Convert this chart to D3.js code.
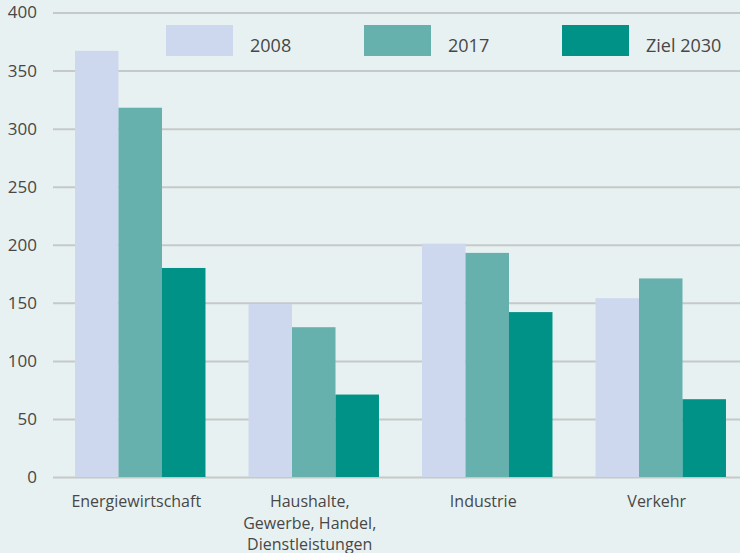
<!DOCTYPE html>
<html>
<head>
<meta charset="utf-8">
<script src="https://cdn.jsdelivr.net/npm/d3@7"></script>
<style>
  body { margin: 0; background: #e8f1f1; }
  #svg { width: 740px; height: 553px; }
  text { font-family: "Open Sans", sans-serif; fill: #474747; }
</style>
</head>
<body>
<div id="svg"></div>
<script>
const categories = [
  ['Energiewirtschaft'],
  ['Haushalte,', 'Gewerbe, Handel,', 'Dienstleistungen'],
  ['Industrie'],
  ['Verkehr']
]
const seriesNames = ['2008', '2017', 'Ziel 2030']
const values2008 = [367, 149, 201, 154]
const values2017 = [318, 129, 193, 171]
const valuesZiel = [180, 71, 142, 67]
const yTicks = [0, 50, 100, 150, 200, 250, 300, 350, 400]
const colors = ['#cdd8ee', '#66b0ae', '#009286']

const allSeries = [values2008, values2017, valuesZiel]

const svg = d3.select('#svg')
  .append('svg')
  .attr('width', 740)
  .attr('height', 553)

svg.append('rect')
  .attr('width', 740).attr('height', 553)
  .attr('fill', '#e8f1f1')

const yScale = d3.scaleLinear().domain([0, 400]).range([477, 12.5])

const xScale = d3.scaleBand()
  .domain(d3.range(categories.length))
  .range([53.5, 747.5])
  .paddingInner(0.248)
  .paddingOuter(0.124)

const inner = d3.scaleBand()
  .domain(d3.range(seriesNames.length))
  .range([0, xScale.bandwidth()])

// gridlines + y labels
const yAxis = svg.append('g')
  .call(d3.axisLeft(yScale).tickValues(yTicks).tickSize(-687).tickPadding(16))
  .attr('transform', 'translate(53,0)')
yAxis.select('.domain').remove()
yAxis.selectAll('line').attr('stroke', '#c6c9c9').attr('stroke-width', 2)
yAxis.selectAll('text')
  .attr('font-size', '17px')
  .attr('font-family', '"Open Sans", sans-serif')
  .attr('fill', '#474747')

// bars
allSeries.forEach((vals, s) => {
  svg.append('g')
    .selectAll('rect')
    .data(vals)
    .enter()
    .append('rect')
    .attr('x', (d, i) => xScale(i) + inner(s))
    .attr('width', inner.bandwidth())
    .attr('y', d => yScale(d))
    .attr('height', d => yScale(0) - yScale(d))
    .attr('fill', colors[s])
})

// x labels
const xl = svg.append('g')
  .selectAll('text')
  .data(categories)
  .enter()
  .append('text')
  .attr('text-anchor', 'middle')
  .attr('font-size', '16px')
  .attr('y', 507)
xl.selectAll('tspan')
  .data((d, i) => d.map(t => ({ t, i })))
  .enter()
  .append('tspan')
  .attr('x', d => xScale(d.i) + xScale.bandwidth() / 2 - 4)
  .attr('dy', (d, j) => j === 0 ? 0 : 21.5)
  .text(d => d.t)

// legend
const legend = svg.append('g')
  .selectAll('g')
  .data(seriesNames)
  .enter()
  .append('g')
  .attr('transform', (d, i) => 'translate(' + (166 + i * 198) + ',25)')
legend.append('rect')
  .attr('width', 67).attr('height', 31)
  .attr('fill', (d, i) => colors[i])
legend.append('text')
  .attr('x', 84).attr('y', 27)
  .attr('font-size', '18px')
  .text(d => d)
</script>
</body>
</html>
